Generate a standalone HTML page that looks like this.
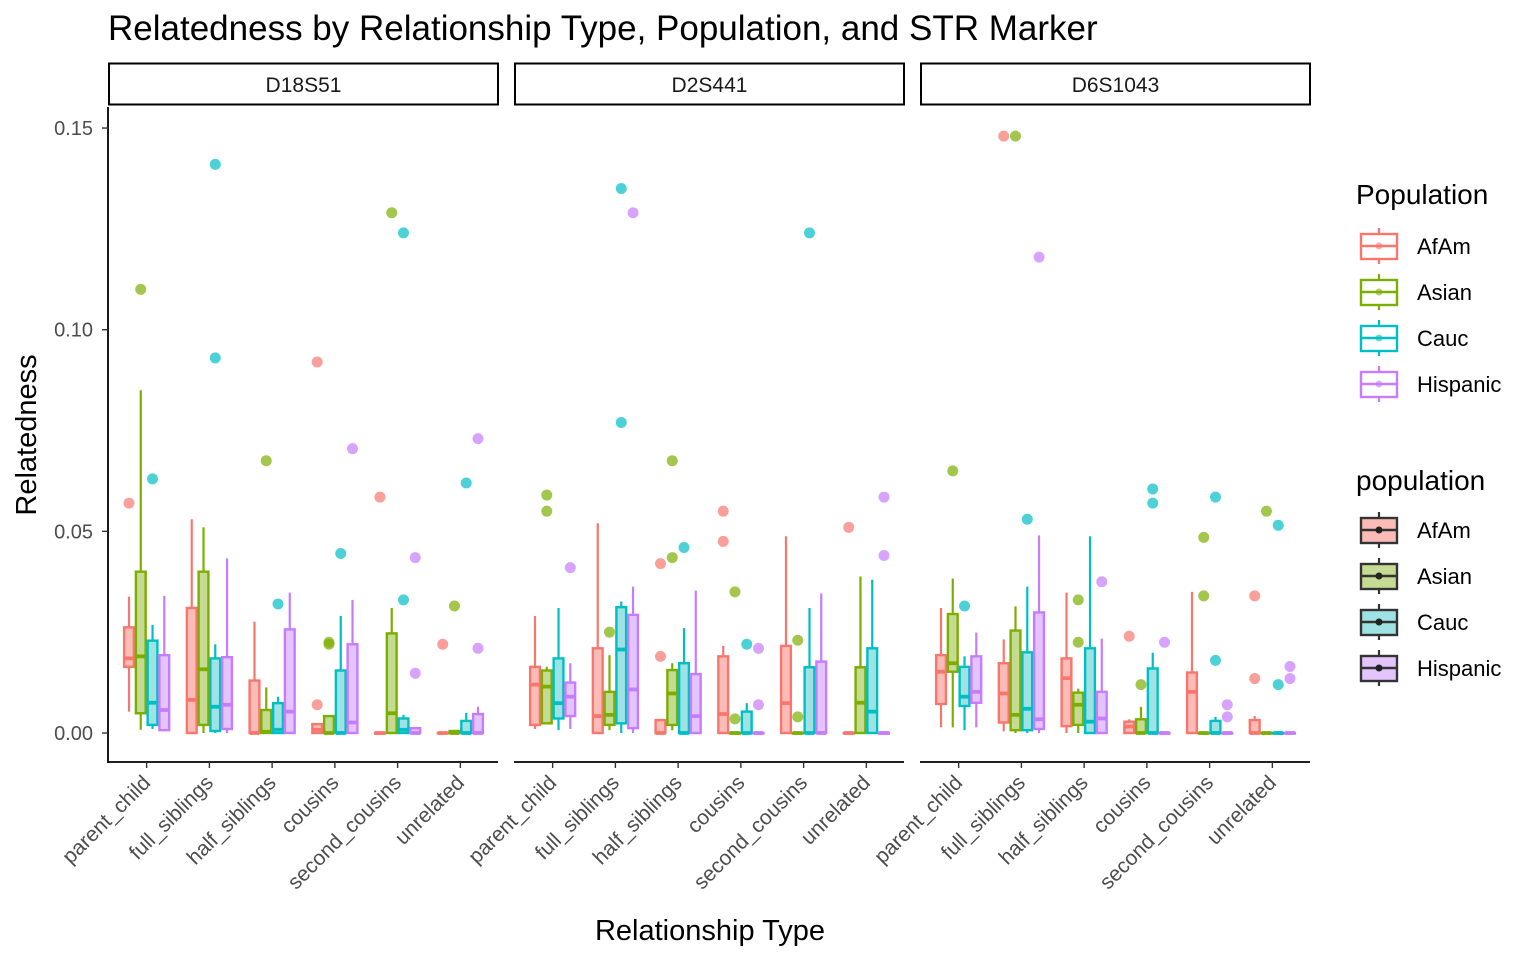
<!DOCTYPE html>
<html><head><meta charset="utf-8"><style>
body{margin:0;background:#fff;}
svg{display:block;font-family:"Liberation Sans",Arial,sans-serif;}
</style></head><body>
<svg id="chart" width="1536" height="960" viewBox="0 0 1536 960">
<text x="108" y="40" font-size="35" fill="#000">Relatedness by Relationship Type, Population, and STR Marker</text>
<g id="panels"></g>
<g id="legend"></g>
<text x="710" y="940" font-size="29" text-anchor="middle" fill="#000">Relationship Type</text>
<text transform="translate(36,435) rotate(-90)" font-size="29" text-anchor="middle" fill="#000">Relatedness</text>
</svg>
<script>
const markers = ["D18S51","D2S441","D6S1043"];
const categories = ["parent_child","full_siblings","half_siblings","cousins","second_cousins","unrelated"];
const populations = ["AfAm","Asian","Cauc","Hispanic"];
const yTicks = [0, 0.05, 0.10, 0.15];
const yTickLabels = ["0.00","0.05","0.10","0.15"];
// box stats [lo,q1,med,q3,hi] per category per population
const boxD18S51 = [
 [[0.0053,0.0164,0.0185,0.0262,0.0338],[0.0008,0.0049,0.019,0.040,0.085],[0.001,0.002,0.0075,0.0229,0.0268],[0.0007,0.0007,0.0057,0.0193,0.034]],
 [[0,0,0.0082,0.031,0.053],[0,0.002,0.0158,0.040,0.051],[0,0.0005,0.0065,0.0185,0.022],[0,0.001,0.007,0.0188,0.0433]],
 [[0,0,0,0.013,0.0276],[0,0,0.0003,0.0057,0.0113],[0,0,0.0008,0.0074,0.009],[0,0,0.0053,0.0257,0.0348]],
 [[0,0,0.0008,0.0022,0.0022],[0,0,0,0.0042,0.0042],[0,0,0,0.0155,0.029],[0,0,0.0026,0.022,0.033]],
 [[0,0,0,0,0],[0,0,0.0049,0.0247,0.031],[0,0,0.0008,0.0036,0.0045],[0,0,0,0.0012,0.0012]],
 [[0,0,0,0,0],[0,0,0,0.0005,0.0005],[0,0,0,0.003,0.005],[0,0,0,0.0047,0.0065]]
];
const boxD2S441 = [
 [[0.001,0.002,0.012,0.0164,0.029],[0.0024,0.0024,0.0115,0.0155,0.0164],[0.0007,0.0036,0.0074,0.0185,0.031],[0.001,0.0042,0.009,0.0125,0.0173]],
 [[0,0,0.0042,0.021,0.052],[0.0007,0.002,0.0045,0.0102,0.0193],[0,0.0024,0.0207,0.0312,0.0326],[0,0.0012,0.0108,0.0293,0.0363]],
 [[0,0,0,0.0032,0.0032],[0.0007,0.002,0.0098,0.0156,0.0173],[0,0,0,0.0173,0.026],[0,0,0.0042,0.0146,0.0353]],
 [[0,0,0.0047,0.019,0.0216],[0,0,0,0,0],[0,0,0,0.0053,0.0074],[0,0,0,0,0]],
 [[0,0,0.0074,0.0216,0.0488],[0,0,0,0,0],[0,0,0,0.0163,0.031],[0,0,0,0.0177,0.0346]],
 [[0,0,0,0,0],[0,0,0.0075,0.0163,0.0388],[0,0,0.0053,0.021,0.038],[0,0,0,0,0]]
];
const boxD6S1043 = [
 [[0.0014,0.0072,0.0152,0.0193,0.031],[0.0014,0.0152,0.0173,0.0295,0.0383],[0.0007,0.0067,0.009,0.0164,0.019],[0.0014,0.0075,0.0102,0.019,0.0249]],
 [[0.0004,0.0026,0.0098,0.0173,0.0232],[0,0.0007,0.0045,0.0254,0.0314],[0,0.0007,0.006,0.020,0.0363],[0,0.001,0.0034,0.0299,0.049]],
 [[0,0.0017,0.0136,0.0185,0.0348],[0,0.002,0.007,0.010,0.011],[0,0,0.0028,0.021,0.0488],[0,0,0.0036,0.0102,0.0234]],
 [[0,0,0.0016,0.0028,0.0034],[0,0,0,0.0034,0.0065],[0,0,0,0.016,0.0199],[0,0,0,0,0]],
 [[0,0,0.0102,0.015,0.035],[0,0,0,0,0],[0,0,0,0.003,0.004],[0,0,0,0,0]],
 [[0,0,0,0.0032,0.0042],[0,0,0,0,0],[0,0,0,0,0],[0,0,0,0,0]]
];
const outD18S51 = [
 [[0.057],[0.110],[0.063],[]],
 [[],[],[0.093,0.141],[]],
 [[],[0.0675],[0.032],[]],
 [[0.007,0.092],[0.022,0.0225],[0.0445],[0.0705]],
 [[0.0585],[0.129],[0.033,0.124],[0.0148,0.0435]],
 [[0.022],[0.0315],[0.062],[0.021,0.073]]
];
const outD2S441 = [
 [[],[0.055,0.059],[],[0.041]],
 [[],[0.025],[0.077,0.135],[0.129]],
 [[0.019,0.042],[0.0435,0.0675],[0.046],[]],
 [[0.0475,0.055],[0.0035,0.035],[0.022],[0.007,0.021]],
 [[],[0.004,0.023],[0.124],[]],
 [[0.051],[],[],[0.044,0.0585]]
];
const outD6S1043 = [
 [[],[0.065],[0.0315],[]],
 [[0.148],[0.148],[0.053],[0.118]],
 [[],[0.0225,0.033],[],[0.0375]],
 [[0.024],[0.012],[0.057,0.0605],[0.0225]],
 [[],[0.034,0.0485],[0.018,0.0585],[0.004,0.007]],
 [[0.0135,0.034],[0.055],[0.012,0.0515],[0.0135,0.0165]]
];
const boxData = [boxD18S51, boxD2S441, boxD6S1043];
const outData = [outD18S51, outD2S441, outD6S1043];
const colors = ["#F8766D","#7CAE00","#00BFC4","#C77CFF"];
const fills = ["#FBBCB8","#C5DB93","#9FE2E3","#E3C4FF"];

const NS="http://www.w3.org/2000/svg";
const panelX=[109,515,921], panelW=389, plotTop=107, plotBot=762;
const y0=733, yPerUnit=4033;
function yScale(v){return y0 - v*yPerUnit;}
const step = panelW/6.2;
function xScale(p,c){return panelX[p] + (0.6 + c)*step;}
const bw = 0.75*step/4;
function mk(tag,attrs,parent){const e=document.createElementNS(NS,tag);for(const k in attrs)e.setAttribute(k,attrs[k]);parent.appendChild(e);return e;}
const root=document.getElementById('panels');

const yax=mk('g',{},root);


mk('line',{x1:108,y1:plotTop,x2:108,y2:plotBot+1,stroke:'#000','stroke-width':1.8},yax);
yTicks.forEach((t,i)=>{
  const y=yScale(t);
  mk('line',{x1:102,y1:y,x2:108,y2:y,stroke:'#333','stroke-width':1.4},yax);
  const tx=mk('text',{x:93,y:y+7,'font-size':20,'text-anchor':'end',fill:'#4d4d4d'},yax);
  tx.textContent=yTickLabels[i];
  
  
});

markers.forEach((m,p)=>{
  const g=mk('g',{},root);
  
  
  const sr=mk('rect',{x:panelX[p],y:63.5,width:panelW,height:41,fill:'#fff',stroke:'#000','stroke-width':2},g);
  
  
  const st=mk('text',{x:panelX[p]+panelW/2,y:92,'font-size':21,'text-anchor':'middle',fill:'#1a1a1a'},g);
  st.textContent=m;
  
  
  mk('line',{x1:panelX[p]-1,y1:plotBot,x2:panelX[p]+panelW,y2:plotBot,stroke:'#000','stroke-width':1.8},g);
  categories.forEach((c,ci)=>{
    const cx=xScale(p,ci);
    mk('line',{x1:cx,y1:plotBot,x2:cx,y2:plotBot+6,stroke:'#333','stroke-width':1.4},g);
    const tl=mk('text',{x:cx+5,y:plotBot+22,'font-size':21,'text-anchor':'end',fill:'#4d4d4d',transform:`rotate(-45 ${cx+5} ${plotBot+22})`},g);
    tl.textContent=c;
    
    
    populations.forEach((pop,pi)=>{
      const s=boxData[p][ci][pi];
      const bx=cx+(pi-2)*bw;
      const mx=bx+bw/2;
      const bg=mk('g',{},g);
      
      
      mk('line',{x1:mx,y1:yScale(s[4]),x2:mx,y2:yScale(s[3]),stroke:colors[pi],'stroke-width':2.2},bg);
      mk('line',{x1:mx,y1:yScale(s[1]),x2:mx,y2:yScale(s[0]),stroke:colors[pi],'stroke-width':2.2},bg);
      const top=yScale(s[3]), bot=yScale(s[1]);
      mk('rect',{x:bx+1,y:top,width:bw-2,height:Math.max(bot-top,0.5),fill:fills[pi],stroke:colors[pi],'stroke-width':2.4},bg);
      mk('line',{x1:bx+1,y1:yScale(s[2]),x2:bx+bw-1,y2:yScale(s[2]),stroke:colors[pi],'stroke-width':3.8},bg);
      outData[p][ci][pi].forEach(v=>{
        const pt=mk('circle',{cx:mx,cy:yScale(v),r:5.5,fill:colors[pi],'fill-opacity':0.7},bg);
        
        
      });
    });
  });
});

const lg=document.getElementById('legend');
function legend(title,ty,startY,outlined){
  const g=mk('g',{},lg);
  
  
  const t=mk('text',{x:1356,y:ty,'font-size':28,fill:'#000'},g);
  t.textContent=title;
  populations.forEach((pop,i)=>{
    const yc=startY+i*46;
    const e=mk('g',{},g);
    
    
    const sc=outlined?colors[i]:'#333';
    mk('line',{x1:1379,y1:yc-18,x2:1379,y2:yc+18,stroke:sc,'stroke-width':2.2},e);
    mk('rect',{x:1361,y:yc-12,width:36,height:25,fill:outlined?'#fff':fills[i],stroke:sc,'stroke-width':2.4},e);
    mk('line',{x1:1361,y1:yc,x2:1397,y2:yc,stroke:sc,'stroke-width':2.4},e);
    mk('circle',{cx:1379,cy:yc,r:3.5,fill:outlined?colors[i]:'#222','fill-opacity':outlined?0.6:1},e);
    const lt=mk('text',{x:1417,y:yc+8,'font-size':22,fill:'#000'},e);
    lt.textContent=pop;
  });
}
legend('Population',204,246,true);
legend('population',490,530,false);
</script>
</body></html>
